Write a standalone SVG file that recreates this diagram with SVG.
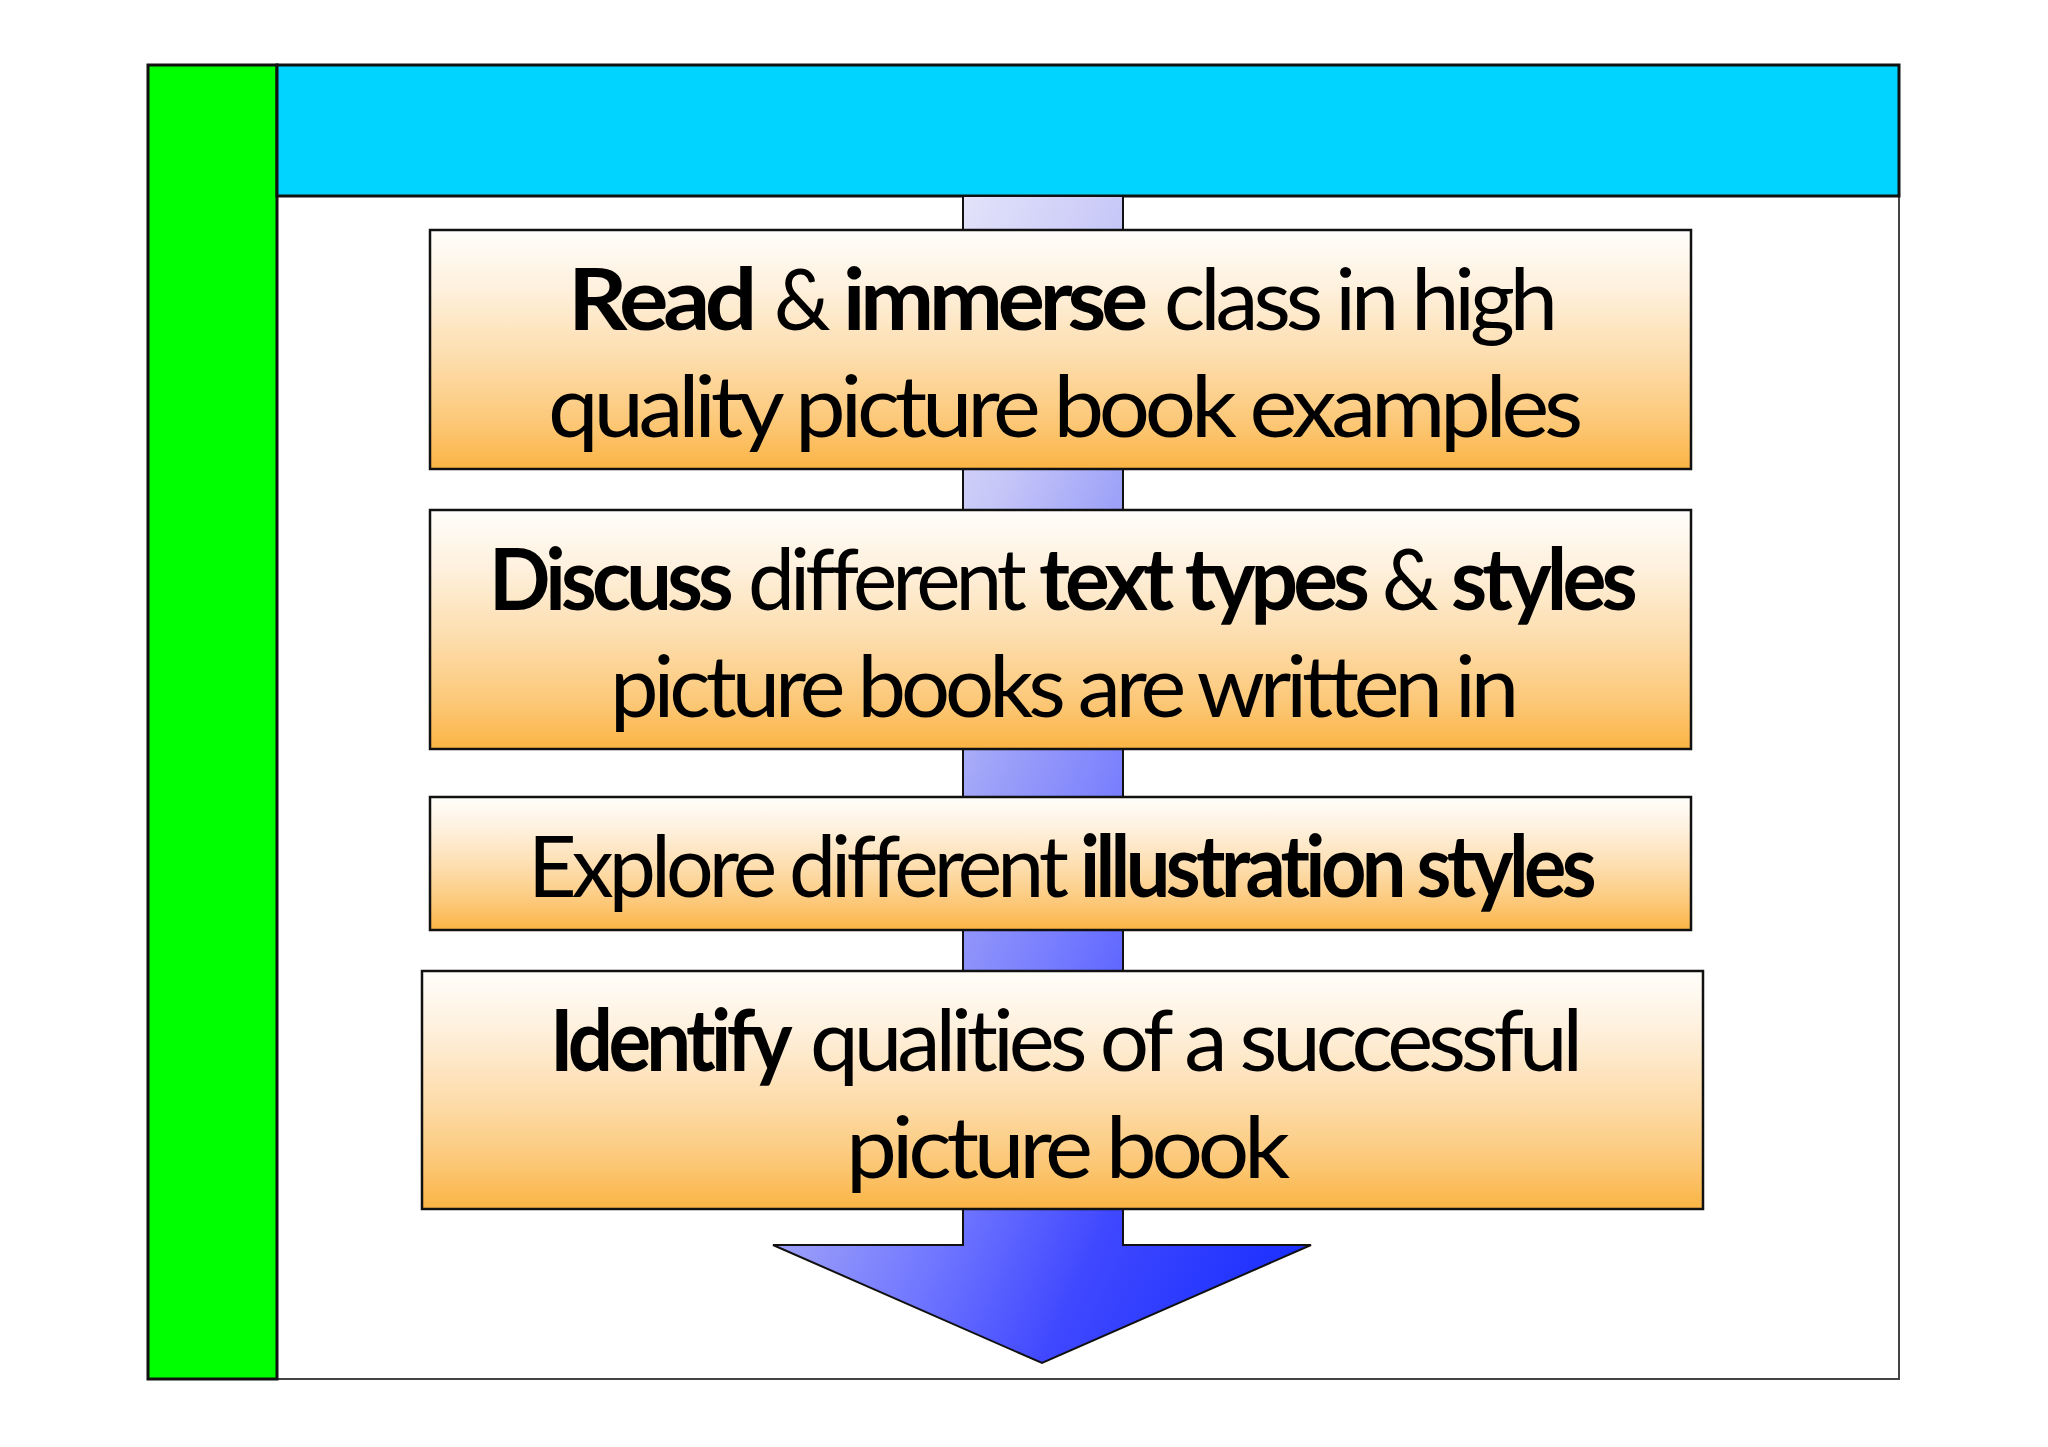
<svg xmlns="http://www.w3.org/2000/svg" width="2048" height="1447" viewBox="0 0 2048 1447">
  <style>
    .frame { fill: #ffffff; stroke: #444444; stroke-width: 2; }
    .bar { stroke: #111111; stroke-width: 3; }
    .box { fill: url(#boxGrad); stroke: #111111; stroke-width: 2.5; }
    .arrow { fill: url(#arrowGrad); stroke: #111111; stroke-width: 2; stroke-linejoin: miter; }
    .t { font-family: "Lato", "Liberation Sans", sans-serif; font-size: 86px; fill: #000000; font-variant-ligatures: none; letter-spacing: -5px; }
    .b { font-weight: 700; }
  </style>
  <defs>
    <linearGradient id="boxGrad" x1="0" y1="0" x2="0" y2="1">
      <stop offset="0" stop-color="#fffefb"/>
      <stop offset="0.25" stop-color="#fef0dc"/>
      <stop offset="0.55" stop-color="#fddcaa"/>
      <stop offset="0.8" stop-color="#fcc878"/>
      <stop offset="1" stop-color="#fbb444"/>
    </linearGradient>
    <linearGradient id="arrowGrad" x1="0" y1="0" x2="1" y2="1">
      <stop offset="0" stop-color="#ffffff"/>
      <stop offset="0.18" stop-color="#e2e2fa"/>
      <stop offset="0.33" stop-color="#c8c8f8"/>
      <stop offset="0.45" stop-color="#9ea2f8"/>
      <stop offset="0.6" stop-color="#7278ff"/>
      <stop offset="0.75" stop-color="#4048ff"/>
      <stop offset="1" stop-color="#1028ff"/>
    </linearGradient>
  </defs>

  <rect width="2048" height="1447" fill="#ffffff"/>
  <g id="frame">
    <rect class="frame" x="148" y="65" width="1751" height="1314"/>
    <rect class="bar" x="148" y="65" width="129" height="1314" fill="#00ff00"/>
    <rect class="bar" x="277" y="65" width="1622" height="131" fill="#00d4ff"/>
  </g>

  <g id="connectors">
    <path class="arrow" d="M963,196 L1123,196 L1123,1245 L1311,1245 L1042,1363 L773,1245 L963,1245 Z"/>
  </g>

  <g id="node1">
    <rect class="box" x="430" y="230" width="1261" height="239"/>
    <text class="t b" x="568" y="330" textLength="184" lengthAdjust="spacingAndGlyphs">Read</text>
    <text class="t" x="774" y="330" textLength="52" lengthAdjust="spacingAndGlyphs">&amp;</text>
    <text class="t b" x="843" y="330" textLength="300" lengthAdjust="spacingAndGlyphs">immerse</text>
    <text class="t" x="1164" y="330" textLength="389" lengthAdjust="spacingAndGlyphs">class in high</text>
    <text class="t" x="548" y="437" textLength="1030" lengthAdjust="spacingAndGlyphs">quality picture book examples</text>
  </g>

  <g id="node2">
    <rect class="box" x="430" y="510" width="1261" height="239"/>
    <text class="t b" x="489" y="610" textLength="240" lengthAdjust="spacingAndGlyphs">Discuss</text>
    <text class="t" x="748" y="610" textLength="274" lengthAdjust="spacingAndGlyphs">different</text>
    <text class="t b" x="1039" y="610" textLength="326" lengthAdjust="spacingAndGlyphs">text types</text>
    <text class="t" x="1382" y="610" textLength="52" lengthAdjust="spacingAndGlyphs">&amp;</text>
    <text class="t b" x="1451" y="610" textLength="182" lengthAdjust="spacingAndGlyphs">styles</text>
    <text class="t" x="610" y="717" textLength="904" lengthAdjust="spacingAndGlyphs">picture books are written in</text>
  </g>

  <g id="node3">
    <rect class="box" x="430" y="797" width="1261" height="133"/>
    <text class="t" x="528" y="897" textLength="536" lengthAdjust="spacingAndGlyphs">Explore different</text>
    <text class="t b" x="1080" y="897" textLength="512" lengthAdjust="spacingAndGlyphs">illustration styles</text>
  </g>

  <g id="node4">
    <rect class="box" x="422" y="971" width="1281" height="238"/>
    <text class="t b" x="550" y="1071" textLength="238" lengthAdjust="spacingAndGlyphs">Identify</text>
    <text class="t" x="810" y="1071" textLength="768" lengthAdjust="spacingAndGlyphs">qualities of a successful</text>
    <text class="t" x="846" y="1178" textLength="439" lengthAdjust="spacingAndGlyphs">picture book</text>
  </g>
</svg>
